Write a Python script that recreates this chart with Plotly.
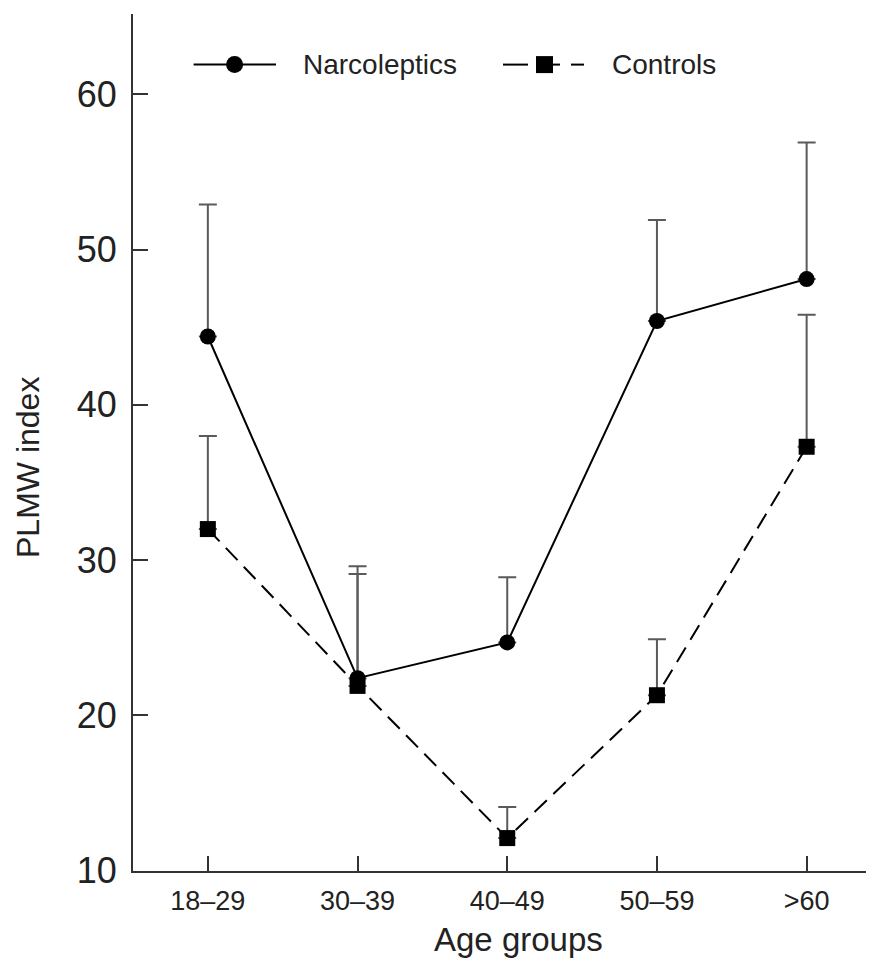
import plotly.graph_objects as go

# ---- data ----
age_groups = ["18–29", "30–39", "40–49", "50–59", ">60"]
narco_mean = [44.4, 22.4, 24.7, 45.4, 48.1]
narco_sd = [8.5, 7.2, 4.2, 6.5, 8.8]
control_mean = [32.0, 21.9, 12.1, 21.3, 37.3]
control_sd = [6.0, 7.2, 2.0, 3.6, 8.5]
y_ticks = [10, 20, 30, 40, 50, 60]

OFF = 8  # page body margin
W, H = 874 - OFF, 966 - OFF
L, R, T = 133 - OFF, 0, 14 - OFF
B = H - (871 - OFF)
FONT = "Liberation Sans, Arial, Helvetica, sans-serif"
AX = "#333333"

pw = W - L - R
ph = H - T - B


def px_x(px):
    return (px - OFF - L) / pw


def px_y(py):
    return (H - B - (py - OFF)) / ph


fig = go.Figure()

fig.add_trace(go.Scatter(
    x=age_groups, y=control_mean, mode="lines+markers", name="Controls",
    line=dict(color="black", width=2, dash="17px,9px"),
    marker=dict(symbol="square", size=16, color="black"),
    error_y=dict(type="data", array=control_sd, arrayminus=[0] * len(control_sd),
                 symmetric=False, color="#5a5a5a", thickness=2, width=9),
))
fig.add_trace(go.Scatter(
    x=age_groups, y=narco_mean, mode="lines+markers", name="Narcoleptics",
    line=dict(color="black", width=2),
    marker=dict(symbol="circle", size=16, color="black"),
    error_y=dict(type="data", array=narco_sd, arrayminus=[0] * len(narco_sd),
                 symmetric=False, color="#5a5a5a", thickness=2, width=9),
))

# ---- legend drawn manually ----
ly = px_y(64.6)
shapes = [
    dict(type="line", xref="paper", yref="paper", x0=px_x(193.6), x1=px_x(276),
         y0=ly, y1=ly, line=dict(color="black", width=2)),
    dict(type="circle", xref="paper", yref="paper", xsizemode="pixel", ysizemode="pixel",
         xanchor=px_x(234.6), yanchor=ly, x0=-8.5, x1=8.5, y0=-8.5, y1=8.5,
         fillcolor="black", line=dict(color="black", width=0)),
    dict(type="line", xref="paper", yref="paper", x0=px_x(503), x1=px_x(528),
         y0=ly, y1=ly, line=dict(color="black", width=2)),
    dict(type="line", xref="paper", yref="paper", x0=px_x(536), x1=px_x(560),
         y0=ly, y1=ly, line=dict(color="black", width=2)),
    dict(type="line", xref="paper", yref="paper", x0=px_x(571), x1=px_x(584),
         y0=ly, y1=ly, line=dict(color="black", width=2)),
    dict(type="rect", xref="paper", yref="paper", xsizemode="pixel", ysizemode="pixel",
         xanchor=px_x(544.5), yanchor=ly, x0=-8.5, x1=8.5, y0=-8.5, y1=8.5,
         fillcolor="black", line=dict(color="black", width=0)),
]

annotations = [
    dict(text="Narcoleptics", xref="paper", yref="paper", x=px_x(301), y=ly,
         xanchor="left", yanchor="middle", showarrow=False,
         font=dict(family=FONT, size=28, color="#222")),
    dict(text="Controls", xref="paper", yref="paper", x=px_x(610), y=ly,
         xanchor="left", yanchor="middle", showarrow=False,
         font=dict(family=FONT, size=28, color="#222")),
    dict(text="PLMW index", xref="paper", yref="paper", x=px_x(28), y=px_y(468),
         xanchor="center", yanchor="middle", textangle=-90, showarrow=False,
         font=dict(family=FONT, size=32, color="#222")),
    dict(text="Age groups", xref="paper", yref="paper", x=px_x(518), y=px_y(940),
         xanchor="center", yanchor="middle", showarrow=False,
         font=dict(family=FONT, size=33, color="#222")),
]

fig.update_layout(
    width=W, height=H,
    margin=dict(l=L, r=R, t=T, b=B, pad=0),
    paper_bgcolor="white", plot_bgcolor="white",
    showlegend=False,
    shapes=shapes,
    annotations=annotations,
    font=dict(family=FONT, color="#222"),
)

fig.update_xaxes(
    type="category", range=[-0.5, 4.45],
    showline=True, linecolor=AX, linewidth=2,
    ticks="inside", ticklen=15, tickwidth=2, tickcolor=AX,
    showgrid=False, zeroline=False,
    tickfont=dict(family=FONT, size=27, color="#222"),
    ticklabelstandoff=5,
)
fig.update_yaxes(
    range=[9.98, 65.17], tickvals=y_ticks,
    showline=True, linecolor=AX, linewidth=2,
    ticks="inside", ticklen=15, tickwidth=2, tickcolor=AX,
    showgrid=False, zeroline=False,
    tickfont=dict(family=FONT, size=36, color="#222"),
    ticklabelstandoff=7,
)

fig.write_html("out.html")
